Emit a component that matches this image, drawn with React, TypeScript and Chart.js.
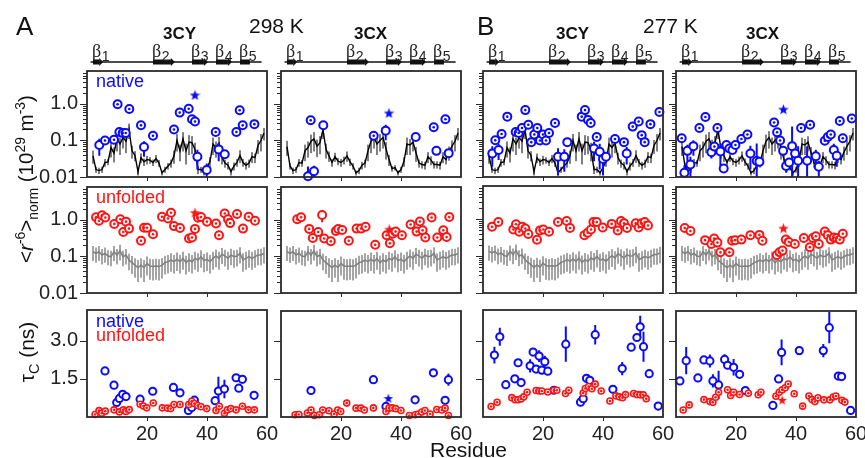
import React, { useEffect, useRef } from 'react';
import { Chart, registerables } from 'chart.js';
Chart.register(...registerables);

// ---------------- DATA ----------------
// residue numbers used by the predicted (structure-based) and random-coil profiles
const RES = [2,3,4,5,6,7,8,9,10,11,12,13,14,15,16,17,18,19,20,21,22,23,24,25,26,27,28,29,30,31,32,33,34,35,36,37,38,39,40,41,42,43,44,45,46,47,48,49,50,51,52,53,54,55,56,57,58,59];

// black line: native-structure prediction (10^29 m^-3)
const pred3CY = [0.038,0.016,0.015,0.016,0.025,0.026,0.064,0.045,0.11,0.08,0.12,0.095,0.2,0.052,0.039,0.014,0.034,0.026,0.03,0.029,0.025,0.032,0.024,0.013,0.016,0.02,0.024,0.038,0.1,0.052,0.11,0.052,0.09,0.087,0.057,0.016,0.016,0.013,0.018,0.027,0.08,0.064,0.085,0.034,0.024,0.021,0.014,0.02,0.025,0.039,0.025,0.021,0.024,0.036,0.034,0.073,0.1,0.16];
const pred3CYErr = [0.015,0.003,0.003,0.003,0.006,0.005,0.03,0.02,0.06,0.04,0.06,0.05,0.09,0.02,0.012,0.003,0.01,0.006,0.008,0.006,0.005,0.008,0.005,0.002,0.003,0.004,0.006,0.015,0.05,0.025,0.06,0.03,0.05,0.045,0.03,0.004,0.003,0.002,0.004,0.008,0.04,0.03,0.04,0.012,0.006,0.005,0.003,0.005,0.006,0.015,0.006,0.005,0.006,0.012,0.01,0.03,0.05,0.06];
const pred3CX = [0.068,0.02,0.015,0.016,0.025,0.024,0.052,0.064,0.095,0.11,0.07,0.087,0.2,0.057,0.038,0.025,0.036,0.027,0.025,0.029,0.038,0.026,0.02,0.013,0.015,0.021,0.024,0.052,0.095,0.12,0.08,0.1,0.12,0.06,0.03,0.017,0.018,0.013,0.016,0.027,0.08,0.075,0.09,0.046,0.024,0.022,0.021,0.036,0.029,0.022,0.022,0.021,0.036,0.03,0.048,0.07,0.095,0.16];
const pred3CXErr = [0.03,0.004,0.003,0.003,0.006,0.005,0.025,0.03,0.05,0.06,0.035,0.045,0.09,0.025,0.012,0.006,0.01,0.006,0.006,0.007,0.012,0.006,0.004,0.002,0.003,0.005,0.006,0.025,0.05,0.06,0.04,0.05,0.06,0.03,0.01,0.003,0.003,0.002,0.003,0.008,0.04,0.035,0.04,0.02,0.006,0.005,0.005,0.012,0.008,0.005,0.005,0.005,0.012,0.008,0.02,0.03,0.045,0.06];

// grey line: random-coil prediction
const coil = [0.135,0.122,0.135,0.11,0.122,0.103,0.099,0.135,0.11,0.143,0.099,0.11,0.08,0.068,0.058,0.05,0.058,0.05,0.065,0.055,0.053,0.055,0.053,0.058,0.068,0.072,0.08,0.072,0.084,0.072,0.089,0.068,0.08,0.072,0.089,0.08,0.099,0.077,0.084,0.072,0.089,0.103,0.089,0.117,0.103,0.089,0.11,0.099,0.103,0.122,0.08,0.089,0.099,0.089,0.099,0.11,0.11,0.122];
const coilErr = [0.06,0.055,0.06,0.05,0.055,0.045,0.045,0.06,0.05,0.065,0.045,0.05,0.038,0.035,0.032,0.03,0.032,0.03,0.035,0.032,0.031,0.032,0.031,0.033,0.036,0.038,0.042,0.038,0.044,0.038,0.046,0.036,0.042,0.038,0.046,0.042,0.05,0.04,0.044,0.038,0.046,0.052,0.046,0.055,0.05,0.046,0.052,0.05,0.05,0.058,0.042,0.046,0.05,0.046,0.05,0.052,0.052,0.058];

// measured points: [residue, value, sd, centre-dot marker 1/0]
type Pt = [number, number, number, number];
const nat298_3CY: Pt[] = [[4.1,0.075,0.037,0],[6,0.1,0,1],[9,0.105,0,1],[10.2,0.98,0,1],[10.8,0.17,0,1],[11.9,0.16,0,1],[12.9,0.16,0,1],[14.1,0.73,0,1],[18,0.26,0,1],[19,0.066,0.03,0],[22,0.135,0,1],[29,0.2,0,1],[30.9,0.58,0,1],[33.9,0.74,0,1],[35,0.38,0.07,0],[36,0.33,0,1],[36.8,0.036,0.02,0],[39.9,0.0155,0.008,0],[42.9,0.17,0,1],[43.9,0.057,0.03,0],[45.9,0.042,0.008,0],[49.8,0.17,0,1],[50.9,0.67,0,1],[51.9,0.26,0,1],[55.8,0.28,0,1]];
const nat298_3CX: Pt[] = [[9,0.0105,0.009,0],[9.9,0.36,0,1],[11,0.0143,0.006,0],[14.1,0.26,0,0],[30.9,0.135,0,1],[34.9,0.186,0.085,0],[44.9,0.125,0,0],[50.9,0.23,0,1],[51.8,0.052,0.012,0],[54.8,0.38,0,1],[55.9,0.045,0.008,0]];
const nat277_3CY: Pt[] = [[3.1,0.044,0.025,0],[4.1,0.101,0,1],[5.2,0.055,0.026,0],[6.2,0.15,0,1],[8.1,0.45,0,1],[10.9,0.17,0,1],[11.9,0.16,0,1],[13,0.22,0,1],[14.1,0.68,0,1],[15.1,0.27,0,1],[16.1,0.09,0,1],[17.1,0.146,0,1],[18.1,0.22,0,1],[19,0.1,0,1],[20,0.146,0,1],[21,0.1,0,1],[22,0.16,0,1],[24,0.3,0,1],[25,0.036,0.025,0],[27.1,0.036,0.022,0],[28.1,0.09,0.01,0],[32.9,0.45,0,1],[34,0.68,0,1],[35,0.365,0,1],[35.9,0.3,0,1],[37,0.06,0.033,0],[37.9,0.125,0,1],[38.9,0.049,0.033,0],[40,0.031,0.02,0],[41,0.036,0.01,0],[44,0.11,0,1],[47,0.09,0,1],[47.9,0.044,0.022,0],[49.9,0.24,0,1],[51.9,0.33,0,1],[52.9,0.14,0,1],[53.9,0.09,0,1],[55.8,0.28,0,1],[58.8,0.6,0,1]];
const nat277_3CX: Pt[] = [[1.9,0.115,0,1],[2.8,0.013,0.008,0],[3.8,0.052,0.025,0],[4.8,0.022,0.014,0],[5.8,0.07,0.032,0],[7.8,0.22,0,1],[9.8,0.44,0,1],[11.8,0.048,0.016,0],[12.8,0.068,0,1],[13.8,0.22,0,1],[14.8,0.05,0.03,0],[15.9,0.017,0,0],[16.8,0.075,0,0],[17.8,0.06,0,0],[18.8,0.055,0,0],[19.8,0.075,0,1],[21.8,0.11,0,1],[23.8,0.146,0,1],[24.8,0.044,0.028,0],[26.9,0.0275,0.055,0],[27.8,0.026,0,0],[32.7,0.31,0,1],[33.7,0.168,0,1],[34.7,0.1,0,1],[35.7,0.052,0.012,0],[36.7,0.02,0.007,0],[37.7,0.025,0,0],[38.7,0.07,0.17,0],[39.7,0.044,0,0],[40.7,0.028,0.042,0],[41.7,0.22,0,1],[43.7,0.028,0.042,0],[44.7,0.27,0,1],[46.6,0.037,0.019,0],[47.6,0.019,0.009,0],[49.6,0.098,0,1],[50.6,0.125,0,1],[51.6,0.146,0,1],[52.6,0.055,0.026,0],[53.6,0.038,0.019,0],[54.6,0.34,0,1],[55.6,0.115,0,1],[58.6,0.4,0,1]];

const unf298_3CY: Pt[] = [[3,1.19,0,1],[4,0.95,0,1],[5,1.34,0,1],[6.1,1.17,0,1],[9.1,0.78,0,1],[11.1,1.05,0,1],[12.1,0.47,0,1],[13,0.9,0,1],[14,0.58,0,1],[18,0.27,0,1],[19,0.61,0,1],[20,0.61,0,1],[22,0.405,0,1],[25,1.23,0,1],[27,1.1,0,1],[28,1.58,0,1],[29,0.68,0,1],[31,0.6,0,1],[34,0.31,0,1],[35,0.33,0,1],[36,0.57,0,1],[37,1.15,0,1],[38,1.2,0,1],[40,0.9,0,1],[43,0.8,0,1],[44,0.38,0,1],[45.9,1.5,0,1],[47,1.05,0,1],[47.7,0.82,0,1],[50,1.45,0,1],[52,0.58,0,1],[53.9,1.23,0,1],[56,0.95,0,1]];
const unf298_3CX: Pt[] = [[5.4,1.05,0,1],[6.7,1.19,0,1],[9.4,0.57,0,1],[10.6,0.32,0,1],[12.4,0.47,0,1],[13.7,1.37,0.5,0],[14.4,0.31,0,1],[16.6,0.26,0,1],[18.3,0.5,0.1,0],[19.1,0.57,0,1],[20.4,0.53,0,1],[22.6,0.27,0,1],[25.2,0.58,0,1],[26.7,0.58,0,1],[28.2,0.65,0,1],[31.4,0.21,0,1],[35.2,0.38,0,1],[36.3,0.23,0,1],[37.2,0.42,0,1],[38.2,0.48,0,1],[40.3,0.38,0,1],[43.2,0.75,0,1],[45.2,0.48,0,1],[46.3,0.91,0,1],[47.2,0.52,0,1],[48.1,0.33,0,1],[50.2,1.17,0,1],[52.1,0.33,0,1],[54.1,0.52,0,1],[55.2,0.34,0,1],[56.1,1.2,0,1]];
const unf277_3CY: Pt[] = [[3,0.63,0,1],[5.1,0.84,0,1],[10.1,0.53,0,1],[11,0.73,0,1],[12.1,0.46,0,1],[13.1,0.63,0,1],[14.1,0.56,0,1],[15.1,0.4,0,1],[18,0.28,0,1],[19,0.5,0,1],[20.1,0.53,0,1],[22,0.46,0,1],[25,0.84,0,1],[27.9,0.9,0,1],[29,0.58,0,1],[33.8,0.37,0,1],[34.9,0.43,0,1],[36,0.53,0,1],[36.8,0.84,0,1],[37.9,0.84,0,1],[39.9,0.6,0,1],[42.9,0.75,0,1],[44.9,0.5,0,1],[46,0.9,0,1],[47,0.78,0,1],[48,0.58,0,1],[50.9,0.78,0,1],[51.9,0.6,0,1],[52.9,0.78,0,1],[53.9,0.84,0,1],[55,0.68,0,1]];
const unf277_3CX: Pt[] = [[2.9,0.6,0,1],[4.8,0.5,0,1],[9.7,0.28,0,1],[11.8,0.22,0,1],[12.7,0.31,0,1],[13.8,0.24,0,1],[14.8,0.13,0,1],[17.8,0.13,0,1],[18.7,0.27,0,1],[19.7,0.28,0,1],[21.8,0.29,0,1],[24.8,0.38,0,1],[27.8,0.39,0,1],[28.8,0.27,0,1],[33.6,0.11,0,1],[34.5,0.13,0,1],[35.5,0.145,0,1],[36.6,0.29,0,1],[37.6,0.25,0,1],[39.6,0.22,0,1],[42.6,0.32,0,1],[44.6,0.18,0,1],[45.6,0.32,0,1],[46.6,0.36,0,1],[47.6,0.22,0,1],[49.6,0.48,0,1],[50.6,0.38,0,1],[51.6,0.29,0,1],[52.6,0.33,0,1],[53.6,0.32,0,1],[54.6,0.29,0,1],[55.6,0.42,0,1]];

// rotational correlation times tau_C (ns)
const tauN298_3CY: Pt[] = [[6,1.81,0.11,0],[9,1.25,0,0],[9.9,0.57,0,0],[10.8,0.73,0,0],[11.9,0.89,0,0],[13,0.8,0,0],[17.7,0.7,0,0],[21.9,1.01,0,0],[28.8,1.16,0,0],[31,0.95,0,0],[33.8,0.26,0,0],[34.9,0.37,0,0],[35.8,0.66,0,0],[42.7,0.64,0,0],[43.8,1.02,0.56,0],[45.8,1.1,0.36,0],[49.7,1.54,0,0],[50.6,1.13,0,0],[51.8,1.48,0,0],[55.7,0.85,0,0]];
const tauU298_3CY: Pt[] = [[2.7,0.1,0,1],[4,0.25,0,1],[4.9,0.15,0,1],[6.1,0.23,0,1],[9,0.28,0,1],[10.8,0.2,0,1],[12.1,0.28,0,1],[13,0.22,0,1],[14.1,0.29,0,1],[17.7,0.5,0,1],[18.8,0.43,0,1],[19.9,0.36,0,1],[22.1,0.55,0,1],[25.1,0.36,0,1],[26.8,0.35,0,1],[27.9,0.33,0,1],[29,0.49,0,1],[31,0.49,0,1],[33.9,0.49,0,1],[34.9,0.62,0,1],[35.8,0.53,0,1],[36.9,0.45,0,1],[38,0.4,0,1],[39.9,0.33,0,1],[43,0.26,0,1],[44.1,0.42,0,1],[45.8,0.15,0,1],[46.8,0.28,0,1],[47.9,0.33,0,1],[49.7,0.28,0,1],[51.8,0.42,0,1],[53.8,0.28,0,1],[55.8,0.28,0,1]];
const tauN298_3CX: Pt[] = [[10,1.05,0,0],[30.8,1.48,0,0],[35,0.42,0,0],[44.7,0.68,0,0],[50.8,1.75,0,0],[54.7,0.66,0,0],[55.8,1.48,0.24,0]];
const tauU298_3CX: Pt[] = [[4.7,0.09,0,1],[6,0.1,0,1],[8.8,0.16,0,1],[10,0.28,0,1],[11.1,0.06,0,1],[12.8,0.09,0,1],[13.9,0.28,0,1],[16,0.25,0,1],[17.7,0.12,0,1],[18.9,0.28,0,1],[19.9,0.22,0,1],[21.9,0.55,0,1],[25,0.35,0,1],[26.6,0.35,0,1],[27.8,0.28,0,1],[30.8,0.36,0,1],[35,0.22,0,1],[36,0.36,0,1],[37.1,0.36,0,1],[38.2,0.33,0,1],[40,0.26,0,1],[42.8,0.06,0,1],[44.7,0.09,0,1],[45.8,0.12,0,1],[46.9,0.2,0,1],[48,0.26,0,1],[49.7,0.12,0,1],[51.9,0.3,0,1],[53.6,0.28,0,1],[54.7,0.35,0,1],[55.8,0.06,0,1]];
const tauN277_3CY: Pt[] = [[3.8,2.43,0.33,0],[5.6,3.15,0.35,0],[7.6,1.27,0,0],[10.6,1.5,0,0],[11.7,2.13,0,0],[12.7,1.35,0,0],[15.7,2.01,0.26,0],[16.7,2.55,0,0],[17.7,1.88,0,0],[18.7,2.39,0.23,0],[19.6,1.84,0,0],[20.6,2.17,0.23,0],[21.6,1.8,0,0],[23.6,1.05,0,0],[27.6,2.86,0.69,0],[32.5,0.58,0,0],[33.4,0.72,0,0],[34.5,1.52,0,0],[35.6,1.44,0,0],[37.4,3.23,0.38,0],[43.3,1.09,0,0],[46.4,1.9,0.26,0],[49.4,2.74,0,0],[51.3,3.12,0,0],[52.4,3.54,0.43,0],[53.5,2.76,0.59,0],[55.4,1.7,0,0],[58.4,0.43,0,0]];
const tauU277_3CY: Pt[] = [[2.7,0.41,0,1],[4.7,0.58,0,1],[9.6,0.76,0,1],[10.7,0.68,0,1],[11.7,0.68,0,1],[12.7,0.71,0,1],[13.6,0.79,0,1],[14.7,0.97,0,1],[17.7,1.04,0,1],[18.7,1.02,0,1],[19.6,1.02,0,1],[21.6,0.98,0,1],[23.6,1.05,0,1],[24.6,1.05,0,1],[27.5,0.92,0,1],[28.6,1.05,0,1],[33.4,0.94,0,1],[34.1,1.12,0,1],[35.2,1.2,0,1],[36.3,1.11,0,1],[37.4,1.29,0,1],[39.4,1.02,0,1],[42.3,0.63,0,1],[44.3,0.83,0,1],[45.4,0.79,0,1],[46.5,0.76,0,1],[47.5,0.88,0,1],[50.2,0.92,0,1],[51.3,0.88,0,1],[52.4,0.87,0,1],[53.4,0.87,0,1],[54.4,0.72,0,1]];
const tauN277_3CX: Pt[] = [[1.3,1.43,0,0],[3.4,2.23,0.54,0],[7.3,1.55,0,0],[9.3,2.26,0,0],[11.3,2.22,0.26,0],[12.3,1.43,0.26,0],[14.2,1.27,0.56,0],[16.2,2.28,0.21,0],[17.2,2.05,0,0],[19.2,1.97,0.33,0],[21.2,1.69,0,0],[23.1,1.05,0,0],[32.3,0.46,0,0],[34.2,1.51,0,0],[35.2,2.56,0.51,0],[41.1,2.63,0,0],[49.1,2.63,0.26,0],[51.1,3.54,0.62,0],[54.1,1.62,0,0],[55.2,1.6,0,0],[58.2,0.26,0,0]];
const tauU277_3CX: Pt[] = [[2.4,0.28,0,1],[4.4,0.48,0,1],[9.3,0.69,0,1],[11.3,0.61,0,1],[12.3,0.58,0,1],[13.2,0.78,0,1],[14.2,0.98,0,1],[17.2,1.08,0,1],[18.2,0.85,0,1],[19.2,0.98,0,1],[21.2,0.89,0,1],[24.1,0.94,0,1],[27.4,0.88,0,1],[28.3,0.98,0,1],[33.3,0.82,0,1],[34.4,0.98,0,1],[35.4,1.08,0,1],[36.4,1.16,0,1],[37.4,1.31,0,1],[39.4,0.92,0,1],[42.2,0.43,0,1],[44.3,0.83,0,1],[45.3,0.69,0,1],[46.3,0.61,0,1],[47.3,0.76,0,1],[49.3,0.68,0,1],[51.3,0.68,0,1],[52.4,0.79,0,1],[53.3,0.83,0,1],[55.3,0.66,0,1],[56.3,0.59,0,1]];

// starred residue (reference spin label site): [residue, value]
const starNat298_3CY = [36, 1.77];
const starNat298_3CX = [36, 0.57];
const starNat277_3CX = [35.8, 0.72];
const starUnf298_3CY = [36, 1.6];
const starUnf298_3CX = [36.1, 0.56];
const starUnf277_3CX = [35.8, 0.6];
const starTauN298_3CX = [35.8, 0.75];
const starTauU277_3CX = [35.4, 0.68];

// secondary structure (residue ranges)
const strandStart = [2, 22, 35, 43, 51];
const strandEnd = [5.4, 29.3, 40.3, 48.3, 54.3];
const strandName = ['1', '2', '3', '4', '5'];
const strandArrow = [1, 1, 1, 1, 0];
const chainRange = [1.2, 58.2];

// axis ticks
const xTickVals = [20, 40, 60];
const logMajor = [0.01, 0.1, 1];
const logLabels = ['0.01', '0.1', '1.0'];
const logMinor = [0.02,0.03,0.04,0.05,0.06,0.07,0.08,0.09,0.2,0.3,0.4,0.5,0.6,0.7,0.8,0.9,2,3,4,5,6,7];
const tauMajor = [1.5, 3.0];
const tauLabels = ['1.5', '3.0'];

// ---------------- LAYOUT / STYLE ----------------
const FONT = "'Liberation Sans', Arial, Helvetica, sans-serif";
const BLUE = '#0a0aff';
const RED = '#ff1414';
const GREY = '#7f7f7f';
const COL_LEFT = [87, 281, 483, 676];
const ROW_TOP = [71, 186, 310];
const ROW_H = [106, 107, 107];
const BOX_W = 180;
const PAD_L = 60, PAD_R = 16;
const PAD_T = [36, 6, 6];
const PAD_B = [8, 8, 32];

function geom(col: number, row: number) {
  const left = COL_LEFT[col] - PAD_L;
  const top = ROW_TOP[row] - PAD_T[row];
  return { left, top, w: BOX_W + PAD_L + PAD_R, h: ROW_H[row] + PAD_T[row] + PAD_B[row] };
}

function starImage(color: string, size: number) {
  const c = document.createElement('canvas');
  c.width = size; c.height = size;
  const g = c.getContext('2d')!;
  const cx = size / 2, cy = size / 2 + 0.6, R = size / 2, r = R * 0.42;
  g.beginPath();
  for (let i = 0; i < 10; i++) {
    const a = -Math.PI / 2 + (i * Math.PI) / 5;
    const rr = i % 2 === 0 ? R : r;
    g.lineTo(cx + rr * Math.cos(a), cy + rr * Math.sin(a));
  }
  g.closePath();
  g.fillStyle = color;
  g.fill();
  return c;
}

const errorBarPlugin = {
  id: 'errbars',
  beforeDatasetDraw(chart: any, args: any) {
    const ds = chart.data.datasets[args.index];
    if (!ds.errors) return;
    const { ctx, chartArea: a } = chart;
    const xs = chart.scales.x, ys = chart.scales.y;
    ctx.save();
    ctx.strokeStyle = ds.errorColor;
    ctx.lineWidth = ds.errorWidth;
    ctx.beginPath();
    ds.data.forEach((p: any, i: number) => {
      const e = ds.errors[i];
      if (!e) return;
      const px = xs.getPixelForValue(p.x);
      const hi = ys.getPixelForValue(p.y + e);
      const lo = p.y - e > ys.min ? ys.getPixelForValue(p.y - e) : a.bottom;
      ctx.moveTo(px, Math.max(a.top, hi));
      ctx.lineTo(px, Math.min(a.bottom, lo));
    });
    ctx.stroke();
    ctx.restore();
  },
};

const panelPlugin = {
  id: 'panel',
  afterDatasetsDraw(chart: any, _args: any, opts: any) {
    const { ctx, chartArea: a } = chart;
    const xs = chart.scales.x, ys = chart.scales.y;
    ctx.save();
    ctx.strokeStyle = '#2a2a2a';
    ctx.lineWidth = 1;
    ctx.beginPath();
    (opts.majorY || []).forEach((v: number) => {
      const y = Math.round(ys.getPixelForValue(v)) + 0.5;
      ctx.moveTo(a.left - 7, y); ctx.lineTo(a.left, y);
    });
    (opts.minorY || []).forEach((v: number) => {
      const y = Math.round(ys.getPixelForValue(v)) + 0.5;
      ctx.moveTo(a.left - 4, y); ctx.lineTo(a.left, y);
    });
    (opts.xTicks || []).forEach((v: number) => {
      const x = Math.round(xs.getPixelForValue(v)) + 0.5;
      ctx.moveTo(x, a.bottom); ctx.lineTo(x, a.bottom + 4);
    });
    ctx.stroke();
    ctx.lineWidth = 1.8;
    ctx.strokeRect(a.left, a.top, a.right - a.left, a.bottom - a.top);

    if (opts.structure) {
      const yl = a.top - 9;
      ctx.strokeStyle = '#111';
      ctx.fillStyle = '#111';
      ctx.lineWidth = 1.5;
      ctx.beginPath();
      ctx.moveTo(xs.getPixelForValue(chainRange[0]), yl);
      ctx.lineTo(xs.getPixelForValue(chainRange[1]), yl);
      ctx.stroke();
      strandStart.forEach((s, i) => {
        const x0 = xs.getPixelForValue(s);
        const x1 = xs.getPixelForValue(strandEnd[i]);
        const head = strandArrow[i] ? 4 : 0;
        ctx.fillRect(x0, yl - 2.5, x1 - x0 - head, 5);
        if (head) {
          ctx.beginPath();
          ctx.moveTo(x1 - head, yl - 4);
          ctx.lineTo(x1, yl);
          ctx.lineTo(x1 - head, yl + 4);
          ctx.closePath();
          ctx.fill();
        }
        ctx.font = "18px 'Liberation Serif', serif";
        ctx.textBaseline = 'alphabetic';
        ctx.textAlign = 'left';
        ctx.fillStyle = '#222';
        ctx.fillText('\u03B2', x0 - 1, a.top - 14);
        const w = ctx.measureText('\u03B2').width;
        ctx.font = `14px ${FONT}`;
        ctx.fillText(strandName[i], x0 - 1 + w + 0.5, a.top - 10);
        ctx.fillStyle = '#111';
      });
    }
    ctx.restore();
  },
};

Chart.register(errorBarPlugin as any, panelPlugin as any);

function pointSets(pts: Pt[], color: string, radius: number, border: number, order: number) {
  return [
    {
      data: pts.filter((p) => p[3] === 1).map((p) => ({ x: p[0], y: p[1] })),
      pointRadius: 1.3, pointBorderWidth: 0, pointBackgroundColor: color, pointBorderColor: color,
      showLine: false, order, clip: false,
    },
    {
      data: pts.map((p) => ({ x: p[0], y: p[1] })),
      errors: pts.map((p) => p[2]), errorColor: color, errorWidth: 2,
      pointRadius: radius, pointBorderWidth: border, pointBorderColor: color, pointBackgroundColor: '#ffffff',
      showLine: false, order: order + 1, clip: false,
    },
  ];
}

function starSet(s: number[] | null, img: HTMLCanvasElement, order: number) {
  if (!s) return [];
  return [{ data: [{ x: s[0], y: s[1] }], pointStyle: img, pointRadius: 6, showLine: false, order, clip: false }];
}

function profileSet(vals: number[], errs: number[], color: string, width: number, errColor: string, errWidth: number) {
  return {
    data: RES.map((r, i) => ({ x: r, y: vals[i] })),
    errors: errs, errorColor: errColor, errorWidth: errWidth,
    showLine: true, borderColor: color, borderWidth: width, pointRadius: 0, tension: 0, order: 20, clip: false,
  };
}

type PanelSpec = { col: number; row: number; build: (stars: any) => any[] };

const PANELS: PanelSpec[] = [
  { col: 0, row: 0, build: (st) => [...starSet(starNat298_3CY, st.blue, 0), ...pointSets(nat298_3CY, BLUE, 4, 2, 1), profileSet(pred3CY, pred3CYErr, '#000', 1.4, '#000', 1)] },
  { col: 1, row: 0, build: (st) => [...starSet(starNat298_3CX, st.blue, 0), ...pointSets(nat298_3CX, BLUE, 4, 2, 1), profileSet(pred3CX, pred3CXErr, '#000', 1.4, '#000', 1)] },
  { col: 2, row: 0, build: () => [...pointSets(nat277_3CY, BLUE, 4, 2, 1), profileSet(pred3CY, pred3CYErr, '#000', 1.4, '#000', 1)] },
  { col: 3, row: 0, build: (st) => [...starSet(starNat277_3CX, st.blue, 0), ...pointSets(nat277_3CX, BLUE, 4, 2, 1), profileSet(pred3CX, pred3CXErr, '#000', 1.4, '#000', 1)] },
  { col: 0, row: 1, build: (st) => [...starSet(starUnf298_3CY, st.red, 0), ...pointSets(unf298_3CY, RED, 4, 2, 1), profileSet(coil, coilErr, GREY, 1.5, '#9c9c9c', 1.8)] },
  { col: 1, row: 1, build: (st) => [...starSet(starUnf298_3CX, st.red, 0), ...pointSets(unf298_3CX, RED, 4, 2, 1), profileSet(coil, coilErr, GREY, 1.5, '#9c9c9c', 1.8)] },
  { col: 2, row: 1, build: () => [...pointSets(unf277_3CY, RED, 4, 2, 1), profileSet(coil, coilErr, GREY, 1.5, '#9c9c9c', 1.8)] },
  { col: 3, row: 1, build: (st) => [...starSet(starUnf277_3CX, st.red, 0), ...pointSets(unf277_3CX, RED, 4, 2, 1), profileSet(coil, coilErr, GREY, 1.5, '#9c9c9c', 1.8)] },
  { col: 0, row: 2, build: () => [...pointSets(tauU298_3CY, RED, 3, 1.6, 1), ...pointSets(tauN298_3CY, BLUE, 3.6, 2, 3)] },
  { col: 1, row: 2, build: (st) => [...starSet(starTauN298_3CX, st.blueS, 0), ...pointSets(tauU298_3CX, RED, 3, 1.6, 1), ...pointSets(tauN298_3CX, BLUE, 3.6, 2, 3)] },
  { col: 2, row: 2, build: () => [...pointSets(tauU277_3CY, RED, 3, 1.6, 1), ...pointSets(tauN277_3CY, BLUE, 3.6, 2, 3)] },
  { col: 3, row: 2, build: (st) => [...starSet(starTauU277_3CX, st.redS, 0), ...pointSets(tauU277_3CX, RED, 3, 1.6, 1), ...pointSets(tauN277_3CX, BLUE, 3.6, 2, 3)] },
];

function buildConfig(p: PanelSpec, stars: any): any {
  const isTau = p.row === 2;
  const padB = PAD_B[p.row];
  const tickFont = { family: FONT, size: 20 };
  return {
    type: 'scatter',
    data: { datasets: p.build(stars) },
    options: {
      animation: false,
      responsive: false,
      devicePixelRatio: 1,
      events: [],
      layout: { padding: { left: 0, right: PAD_R, top: PAD_T[p.row], bottom: 0 } },
      plugins: {
        legend: { display: false },
        tooltip: { enabled: false },
        panel: {
          majorY: isTau ? tauMajor : logMajor,
          minorY: isTau ? [] : logMinor,
          xTicks: [20, 40],
          structure: p.row === 0,
        },
      },
      scales: {
        x: {
          type: 'linear', min: 0, max: 60, bounds: 'data', position: 'bottom',
          grid: { display: false, drawTicks: false }, border: { display: false },
          ticks: {
            display: isTau, font: tickFont, color: '#222', padding: 5, maxRotation: 0, autoSkip: false,
            callback: (v: number) => String(v),
          },
          afterBuildTicks: (s: any) => { s.ticks = xTickVals.map((v) => ({ value: v })); },
          afterFit: (s: any) => { s.height = padB; s.paddingLeft = 0; s.paddingRight = 0; },
        },
        y: isTau
          ? {
              type: 'linear', min: 0, max: 4.2, bounds: 'data', position: 'left',
              grid: { display: false, drawTicks: false }, border: { display: false },
              ticks: { display: p.col === 0, font: tickFont, color: '#222', padding: 9, callback: (_v: number, i: number) => tauLabels[i] },
              afterBuildTicks: (s: any) => { s.ticks = tauMajor.map((v) => ({ value: v })); },
              afterFit: (s: any) => { s.width = PAD_L; s.paddingTop = 0; s.paddingBottom = 0; },
            }
          : {
              type: 'logarithmic', min: 0.01, max: 8, bounds: 'data', position: 'left',
              grid: { display: false, drawTicks: false }, border: { display: false },
              ticks: { display: p.col === 0, font: tickFont, color: '#222', padding: 9, callback: (_v: number, i: number) => logLabels[i] },
              afterBuildTicks: (s: any) => { s.ticks = logMajor.map((v) => ({ value: v })); },
              afterFit: (s: any) => { s.width = PAD_L; s.paddingTop = 0; s.paddingBottom = 0; },
            },
      },
    },
  };
}

const lbl = (fs: number, baseline: number) => baseline - 0.8465 * fs;

export default function App() {
  const refs = useRef<(HTMLCanvasElement | null)[]>([]);
  useEffect(() => {
    const stars = {
      blue: starImage(BLUE, 11),
      red: starImage(RED, 11),
      blueS: starImage(BLUE, 10),
      redS: starImage(RED, 10),
    };
    const charts = PANELS.map((p, i) => new Chart(refs.current[i] as HTMLCanvasElement, buildConfig(p, stars)));
    return () => charts.forEach((c) => c.destroy());
  }, []);

  const txt = (s: React.CSSProperties): React.CSSProperties => ({ position: 'absolute', whiteSpace: 'nowrap', lineHeight: 1, fontFamily: FONT, color: '#111', ...s });
  const sup: React.CSSProperties = { fontSize: '0.68em', verticalAlign: 'super', lineHeight: 0 };
  const sub: React.CSSProperties = { fontSize: '0.68em', verticalAlign: 'sub', lineHeight: 0 };

  return (
    <div style={{ position: 'absolute', left: 0, top: 0, width: 865, height: 458, background: '#fff', overflow: 'hidden' }}>
      {PANELS.map((p, i) => {
        const g = geom(p.col, p.row);
        return (
          <canvas
            key={i}
            ref={(el) => { refs.current[i] = el; }}
            width={g.w}
            height={g.h}
            style={{ position: 'absolute', left: g.left, top: g.top, width: g.w, height: g.h }}
          />
        );
      })}
      <div style={txt({ left: 16, top: lbl(26, 35.5), fontSize: 26 })}>A</div>
      <div style={txt({ left: 477, top: lbl(26, 35.5), fontSize: 26 })}>B</div>
      <div style={txt({ left: 249, top: lbl(21, 33), fontSize: 21 })}>298 K</div>
      <div style={txt({ left: 643, top: lbl(21, 33), fontSize: 21 })}>277 K</div>
      <div style={txt({ left: 163, top: lbl(17, 39), fontSize: 17, fontWeight: 700 })}>3CY</div>
      <div style={txt({ left: 354, top: lbl(17, 39), fontSize: 17, fontWeight: 700 })}>3CX</div>
      <div style={txt({ left: 556, top: lbl(17, 39), fontSize: 17, fontWeight: 700 })}>3CY</div>
      <div style={txt({ left: 746, top: lbl(17, 39), fontSize: 17, fontWeight: 700 })}>3CX</div>
      <div style={txt({ left: 96, top: lbl(18, 87), fontSize: 18, color: BLUE })}>native</div>
      <div style={txt({ left: 96, top: lbl(18, 203), fontSize: 18, color: RED })}>unfolded</div>
      <div style={txt({ left: 96, top: lbl(18, 327), fontSize: 18, color: BLUE })}>native</div>
      <div style={txt({ left: 96, top: lbl(18, 341), fontSize: 18, color: RED })}>unfolded</div>
      <div style={txt({ left: 430, top: lbl(21, 457), fontSize: 21 })}>Residue</div>
      <div style={txt({ left: 26, top: 179, fontSize: 20.5, transform: 'translate(-50%,-50%) rotate(-90deg)' })}>
        &lt;<i>r</i><span style={sup}>-6</span>&gt;<span style={sub}>norm</span> (10<span style={sup}>29</span> m<span style={sup}>-3</span>)
      </div>
      <div style={txt({ left: 26, top: 352, fontSize: 21, transform: 'translate(-50%,-50%) rotate(-90deg)' })}>
        {'\u03C4'}<span style={sub}>C</span> (ns)
      </div>
    </div>
  );
}
